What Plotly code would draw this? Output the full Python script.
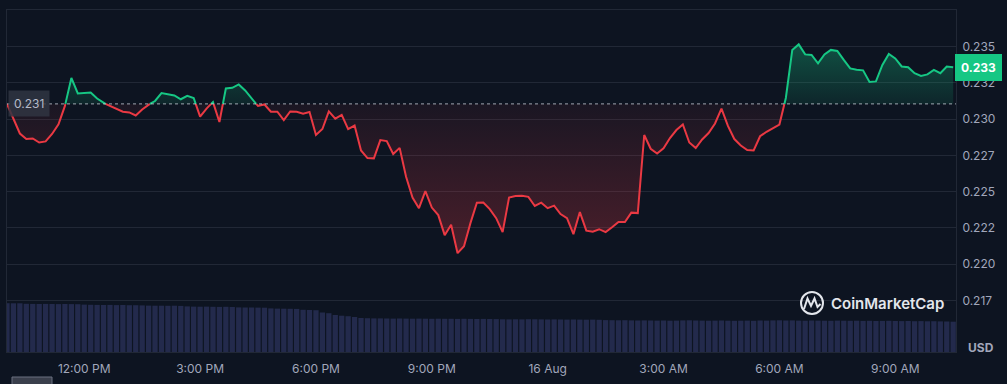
import plotly.graph_objects as go
import pandas as pd

# ---------------- data ----------------
prices = [
    0.23104, 0.23003, 0.22900, 0.22862, 0.22866, 0.22838, 0.22846, 0.22897, 0.22963, 0.23090,
    0.23283, 0.23176, 0.23177, 0.23183, 0.23141, 0.23110, 0.23090, 0.23066, 0.23050, 0.23045,
    0.23024, 0.23066, 0.23099, 0.23124, 0.23179, 0.23172, 0.23162, 0.23136, 0.23159, 0.23145,
    0.23016, 0.23072, 0.23117, 0.22979, 0.23210, 0.23215, 0.23238, 0.23197, 0.23138, 0.23090,
    0.23100, 0.23050, 0.23050, 0.22993, 0.23052, 0.23050, 0.23037, 0.23048, 0.22890, 0.22931,
    0.23052, 0.23002, 0.23028, 0.22930, 0.22955, 0.22783, 0.22731, 0.22729, 0.22855, 0.22848,
    0.22759, 0.22801, 0.22602, 0.22459, 0.22386, 0.22503, 0.22390, 0.22338, 0.22200, 0.22272,
    0.22076, 0.22124, 0.22283, 0.22423, 0.22424, 0.22379, 0.22317, 0.22221, 0.22459, 0.22469,
    0.22472, 0.22464, 0.22401, 0.22424, 0.22386, 0.22403, 0.22345, 0.22317, 0.22207, 0.22359,
    0.22231, 0.22224, 0.22241, 0.22221, 0.22255, 0.22291, 0.22290, 0.22355, 0.22352, 0.22890,
    0.22795, 0.22762, 0.22798, 0.22869, 0.22924, 0.22962, 0.22838, 0.22800, 0.22859, 0.22903,
    0.22969, 0.23072, 0.22952, 0.22862, 0.22817, 0.22786, 0.22783, 0.22881, 0.22912, 0.22938,
    0.22962, 0.23145, 0.23476, 0.23514, 0.23445, 0.23441, 0.23383, 0.23445, 0.23476, 0.23469,
    0.23407, 0.23348, 0.23339, 0.23335, 0.23255, 0.23259, 0.23372, 0.23448, 0.23417, 0.23362,
    0.23357, 0.23315, 0.23297, 0.23307, 0.23338, 0.23315, 0.23361, 0.23357,
]

volumes = [  # millions USD (24h rolling volume bars)
    48.8, 48.7, 48.7,
    48.2, 48.1, 48.0, 48.1, 48.0, 47.9, 48.0, 47.9, 47.8,
    47.4, 47.2, 47.1, 47.0, 47.1, 46.9, 47.0, 46.8, 46.8, 46.6,
    46.4, 46.3, 46.3, 46.2, 46.3, 46.1,
    45.6, 45.4, 45.3, 45.4, 45.2, 45.1, 45.2, 45.0,
    44.6, 44.5, 44.5, 44.4, 44.3,
    43.6, 43.4, 43.3, 43.2, 43.1,
    42.2, 42.0, 41.8,
    39.5, 38.8,
    37.0, 36.3, 35.8, 35.0,
    34.0, 33.8, 33.6, 33.6, 33.5, 33.4, 33.5, 33.4, 33.3, 33.4, 33.3, 33.2, 33.3, 33.2, 33.2,
    33.1, 33.2, 33.1, 33.0, 33.1, 33.0, 32.9,
    32.7, 32.6, 32.7, 32.6, 32.8, 32.7, 32.6, 32.5, 32.6, 32.5, 32.4, 32.5, 32.4, 32.3, 32.4, 32.2,
    31.9, 31.8, 31.7, 31.8, 31.6, 31.5, 31.6, 31.5, 31.4, 31.5, 31.3, 31.4, 31.6, 31.7, 31.5,
    31.4, 31.3, 31.4, 31.5, 31.3, 31.2, 31.3, 31.4, 31.2,
    31.5, 31.4, 31.6, 31.7, 31.5, 31.6, 31.4, 31.3, 31.5, 31.4, 31.3, 31.2, 31.4, 31.3, 31.2,
    31.3, 31.1, 31.2, 31.0, 31.1, 31.2, 31.0, 30.9, 31.0, 30.8, 30.9, 30.7, 30.8, 30.6, 30.5,
    30.3,
]

start_time = "2024-08-15 10:00"
y_tick_values = [0.2175, 0.2200, 0.2225, 0.2250, 0.2275, 0.2300, 0.2325, 0.2350]
y_tick_labels = ["0.217", "0.220", "0.222", "0.225", "0.227", "0.230", "0.232", "0.235"]
x_tick_values = ["2024-08-15 12:00", "2024-08-15 15:00", "2024-08-15 18:00", "2024-08-15 21:00",
                 "2024-08-16 00:00", "2024-08-16 03:00", "2024-08-16 06:00", "2024-08-16 09:00"]
x_tick_labels = ["12:00 PM", "3:00 PM", "6:00 PM", "9:00 PM", "16 Aug", "3:00 AM", "6:00 AM", "9:00 AM"]

# ---------------- styling ----------------
BG = "#0d1421"
GRID = "#212836"
GREEN = "#16c784"
RED = "#ea3943"
TXT = "#a1a7bb"
FONT = "Inter, Roboto, sans-serif"
W, H = 1007, 384
ML, MR, MT, MB = 7, 51, 10, 32
PW, PH = W - ML - MR, H - MT - MB

n = min(len(prices), len(volumes))
prices = prices[:n]
volumes = volumes[:n]
times = pd.date_range(start_time, periods=n, freq="10min")
base = prices[0]

# insert baseline crossings so the colour switch happens exactly at the baseline
xs, ps = [], []
for i in range(n):
    if i > 0:
        a, b = prices[i - 1], prices[i]
        if (a - base) * (b - base) < 0:
            f = (base - a) / (b - a)
            xs.append(times[i - 1] + (times[i] - times[i - 1]) * f)
            ps.append(base)
    xs.append(times[i])
    ps.append(prices[i])

up_line = [p if p >= base else None for p in ps]
dn_line = [p if p <= base else None for p in ps]
up_fill = [max(p, base) for p in ps]
dn_fill = [min(p, base) for p in ps]

fig = go.Figure()

# volume bars
fig.add_trace(go.Bar(x=times, y=volumes, yaxis="y2", marker=dict(color="#232a4c", line=dict(width=0)),
                     hoverinfo="skip", showlegend=False))

# fills
fig.add_trace(go.Scatter(x=xs, y=[base] * len(xs), mode="lines", line=dict(width=0),
                         hoverinfo="skip", showlegend=False))
fig.add_trace(go.Scatter(x=xs, y=up_fill, mode="lines", line=dict(width=0), fill="tonexty",
                         fillgradient=dict(type="vertical", start=base, stop=max(prices),
                                           colorscale=[[0, "rgba(22,199,132,0.10)"], [1, "rgba(22,199,132,0.34)"]]),
                         hoverinfo="skip", showlegend=False))
fig.add_trace(go.Scatter(x=xs, y=[base] * len(xs), mode="lines", line=dict(width=0),
                         hoverinfo="skip", showlegend=False))
fig.add_trace(go.Scatter(x=xs, y=dn_fill, mode="lines", line=dict(width=0), fill="tonexty",
                         fillgradient=dict(type="vertical", start=min(prices), stop=base,
                                           colorscale=[[0, "rgba(234,57,67,0.28)"], [1, "rgba(234,57,67,0.06)"]]),
                         hoverinfo="skip", showlegend=False))

# price lines
fig.add_trace(go.Scatter(x=xs, y=dn_line, mode="lines", line=dict(color=RED, width=2),
                         connectgaps=False, showlegend=False))
fig.add_trace(go.Scatter(x=xs, y=up_line, mode="lines", line=dict(color=GREEN, width=2),
                         connectgaps=False, showlegend=False))


def px_x(px):
    return (px - ML) / PW


def px_y(py):
    return (H - MB - py) / PH


shapes = [
    dict(type="line", xref="paper", yref="y", x0=0, x1=1, y0=base, y1=base,
         line=dict(color="rgba(210,215,225,0.75)", width=1, dash="dot"), layer="above"),
    # CoinMarketCap logo circle
    dict(type="circle", xref="paper", yref="paper",
         x0=px_x(801), x1=px_x(823), y0=px_y(314), y1=px_y(292),
         line=dict(color="#e3e6ec", width=2), layer="above"),
    # small button at bottom left
    dict(type="rect", xref="paper", yref="paper",
         x0=px_x(12), x1=px_x(52), y0=px_y(392), y1=px_y(377),
         fillcolor="#3a3f4c", line=dict(color="#6b7080", width=1), layer="above"),
]
wave = [(804, 309), (807.5, 298.5), (811, 306), (814.5, 298.5), (817.5, 307), (820.5, 304)]
path = "M " + " L ".join(f"{px_x(a):.5f},{px_y(b):.5f}" for a, b in wave)
shapes.append(dict(type="path", xref="paper", yref="paper", path=path,
                   line=dict(color="#e3e6ec", width=2), layer="above"))

annotations = [
    dict(xref="paper", yref="y", x=px_x(8), y=base, xanchor="left", yanchor="middle",
         text=f"{int(base * 1000) / 1000:.3f}", showarrow=False,
         font=dict(family=FONT, size=12, color="#b4bac9"),
         bgcolor="rgba(48,53,66,0.85)", borderpad=5),
    dict(xref="paper", yref="y", x=1, y=prices[-1], xanchor="left", yanchor="middle", xshift=-1,
         text=f"<b>{int(prices[-1] * 1000) / 1000:.3f}</b>", showarrow=False,
         font=dict(family=FONT, size=12, color="#ffffff"),
         bgcolor=GREEN, bordercolor=GREEN, borderpad=5),
    dict(xref="paper", yref="paper", x=px_x(981), y=px_y(347), xanchor="center", yanchor="middle",
         text="<b>USD</b>", showarrow=False, font=dict(family=FONT, size=12, color=TXT)),
    dict(xref="paper", yref="paper", x=px_x(829), y=px_y(303), xanchor="left", yanchor="middle",
         text="CoinMarketCap", showarrow=False,
         font=dict(family=FONT, size=15, color="#e3e6ec", weight=600)),
]

x_end = pd.Timestamp(start_time) + pd.Timedelta(hours=(956 - ML) / 38.62)

fig.update_layout(
    width=W, height=H,
    margin=dict(l=ML, r=MR, t=MT, b=MB, pad=0),
    paper_bgcolor=BG, plot_bgcolor=BG,
    bargap=0.18,
    showlegend=False,
    shapes=shapes,
    annotations=annotations,
    font=dict(family=FONT, size=12, color=TXT),
    xaxis=dict(
        type="date", range=[pd.Timestamp(start_time), x_end],
        tickvals=x_tick_values, ticktext=x_tick_labels,
        showgrid=False, zeroline=False,
        showline=True, mirror=True, linecolor=GRID, linewidth=1,
        ticks="outside", ticklen=6, tickcolor=BG,
        tickfont=dict(family=FONT, size=12, color=TXT),
    ),
    yaxis=dict(
        side="right", range=[0.213953, 0.237507],
        tickvals=y_tick_values, ticktext=y_tick_labels,
        showgrid=True, gridcolor=GRID, gridwidth=1, zeroline=False,
        showline=True, mirror=True, linecolor=GRID, linewidth=1,
        ticks="outside", ticklen=3, tickcolor=BG,
        tickfont=dict(family=FONT, size=12, color=TXT),
    ),
    yaxis2=dict(overlaying="y", range=[0, PH], visible=False, fixedrange=True),
)

fig.write_html("out.html", config={"displayModeBar": False})

# remove the default page margin so the figure sits at the window origin
with open("out.html", "r", encoding="utf-8") as fh:
    html = fh.read()
html = html.replace("<head>", "<head><style>html,body{margin:0;padding:0;background:#0d1421;overflow:hidden;}</style>", 1)
with open("out.html", "w", encoding="utf-8") as fh:
    fh.write(html)
